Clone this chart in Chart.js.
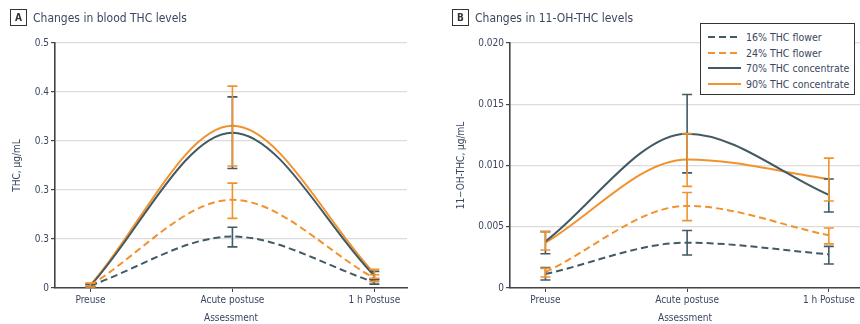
<!DOCTYPE html>
<html>
<head>
<meta charset="utf-8">
<script src="https://cdn.jsdelivr.net/npm/chart.js@4.4.1/dist/chart.umd.min.js"></script>
<style>
  body { margin: 0; background: #fff; }
  #wrap { position: relative; width: 860px; height: 324px; overflow: hidden;
          font-family: "Liberation Sans Narrow", "DejaVu Sans Condensed", "Roboto", sans-serif; color: #3c4660; }
  .panel { position: absolute; top: 0; height: 324px; }
  .head { position: absolute; top: 9px; display: flex; align-items: center; font-size: 12px; }
  .tag { width: 15px; height: 15px; border: 1.5px solid #333; font-weight: bold; font-size: 10px;
         display: flex; align-items: center; justify-content: center; margin-right: 6px; color: #333; }
  #legend { position: absolute; left: 700px; top: 23px; width: 155px; height: 72px; border: 1.5px solid #333;
            background: #fff; font-size: 10.5px; padding-top: 5px; box-sizing: border-box; white-space: nowrap; }
  #legend .row { display: flex; align-items: center; height: 15.7px; padding-left: 7px; }
  #legend svg { margin-right: 5px; flex: none; }
</style>
</head>
<body>
<div id="wrap">
  <div class="panel" style="left:0;width:430px"><canvas id="chartA" width="430" height="324"></canvas></div>
  <div class="panel" style="left:430px;width:430px"><canvas id="chartB" width="430" height="324"></canvas></div>
  <div class="head" style="left:10px"><div class="tag">A</div>Changes in blood THC levels</div>
  <div class="head" style="left:452px"><div class="tag">B</div>Changes in 11-OH-THC levels</div>
  <div id="legend"></div>
</div>
<script>
// categories and series
const categories = ['Preuse', 'Acute postuse', '1 h Postuse'];
const seriesNames = ['16% THC flower', '24% THC flower', '70% THC concentrate', '90% THC concentrate'];
const yTicksA = ['0', '0.3', '0.3', '0.3', '0.4', '0.5'];

// blood THC, µg/mL (mean, lower, upper)
const thcMean = [
  [0.005, 0.105, 0.012],
  [0.006, 0.180, 0.020],
  [0.005, 0.317, 0.025],
  [0.006, 0.331, 0.030]
];
const thcLow = [
  [0.003, 0.084, 0.008],
  [0.003, 0.142, 0.013],
  [0.002, 0.244, 0.017],
  [0.002, 0.249, 0.020]
];
const thcHigh = [
  [0.007, 0.124, 0.018],
  [0.009, 0.214, 0.027],
  [0.008, 0.390, 0.034],
  [0.010, 0.412, 0.038]
];

// 11-OH-THC, µg/mL (mean, lower, upper)
const ohMean = [
  [0.00114, 0.0037, 0.00275],
  [0.0013, 0.0067, 0.0043],
  [0.0038, 0.0126, 0.0076],
  [0.0037, 0.0105, 0.0089]
];
const ohLow = [
  [0.00065, 0.0027, 0.00196],
  [0.0009, 0.0055, 0.0036],
  [0.0028, 0.0094, 0.0062],
  [0.0031, 0.0083, 0.0071]
];
const ohHigh = [
  [0.00166, 0.0047, 0.0034],
  [0.0016, 0.0078, 0.0049],
  [0.0046, 0.0158, 0.0089],
  [0.0046, 0.0126, 0.0106]
];

const DARK = '#425a63';
const ORANGE = '#f2922f';
const lineColors = [DARK, ORANGE, DARK, ORANGE];
const lineDash = [[7, 4], [7, 4], [], []];
const TEXT = '#3c4660';
const FONT = '"Liberation Sans Narrow", "DejaVu Sans Condensed", "Roboto", sans-serif';

// vertical error bars with caps
const errorBars = {
  id: 'errorBars',
  afterDatasetsDraw(chart) {
    const ctx = chart.ctx;
    const xs = chart.scales.x, ys = chart.scales.y;
    chart.data.datasets.forEach(ds => {
      ctx.save();
      ctx.strokeStyle = ds.borderColor;
      ctx.lineWidth = 1.6;
      ds.data.forEach((p, i) => {
        const x = xs.getPixelForValue(p.x);
        const y1 = ys.getPixelForValue(ds.errLow[i]);
        const y2 = ys.getPixelForValue(ds.errHigh[i]);
        ctx.beginPath();
        ctx.moveTo(x, y1); ctx.lineTo(x, y2);
        ctx.moveTo(x - 5, y1); ctx.lineTo(x + 5, y1);
        ctx.moveTo(x - 5, y2); ctx.lineTo(x + 5, y2);
        ctx.stroke();
      });
      ctx.restore();
    });
  }
};

function makeDatasets(mean, low, high) {
  return mean.map((vals, s) => ({
    label: seriesNames[s],
    data: vals.map((v, i) => ({ x: i, y: v })),
    errLow: low[s],
    errHigh: high[s],
    borderColor: lineColors[s],
    borderDash: lineDash[s],
    borderWidth: 2,
    pointRadius: 0,
    cubicInterpolationMode: 'monotone',
    fill: false
  }));
}

function makeChart(id, datasets, opts) {
  return new Chart(document.getElementById(id), {
    type: 'line',
    data: { datasets },
    plugins: [errorBars],
    options: {
      responsive: false,
      animation: false,
      layout: { padding: { top: 43, right: opts.padRight, left: 0, bottom: 0 } },
      plugins: { legend: { display: false }, tooltip: { enabled: false } },
      scales: {
        x: {
          type: 'linear',
          min: -0.25,
          max: opts.xMax,
          afterBuildTicks: s => { s.ticks = categories.map((c, i) => ({ value: i })); },
          afterFit: s => { s.height = 36; },
          ticks: {
            callback: v => categories[v],
            color: TEXT, font: { family: FONT, size: 10 }, padding: 2, maxRotation: 0
          },
          grid: { drawOnChartArea: false, drawTicks: true, tickLength: 4, tickColor: '#444' },
          border: { color: '#444', width: 1.6 },
          title: { display: true, text: 'Assessment', color: TEXT, font: { family: FONT, size: 10 }, padding: { top: 7, bottom: 0 } }
        },
        y: {
          min: 0,
          max: opts.yMax,
          afterFit: s => { s.width = opts.yWidth; },
          afterBuildTicks: s => {
            const out = [];
            for (let k = 0; k <= opts.yCount; k++) out.push({ value: +(k * opts.yStep).toFixed(4) });
            s.ticks = out;
          },
          ticks: {
            callback: opts.yLabel,
            color: TEXT, font: { family: FONT, size: 10 }, padding: 2
          },
          grid: { color: '#dcdcdc', lineWidth: 1.2, tickLength: 4, tickColor: '#444' },
          border: { color: '#444', width: 1.6 },
          title: { display: true, text: opts.yTitle, color: TEXT, font: { family: FONT, size: 10 }, padding: { top: opts.yTitlePad, bottom: 0 } }
        }
      }
    }
  });
}

makeChart('chartA', makeDatasets(thcMean, thcLow, thcHigh), {
  padRight: 23, xMax: 2.23, yMax: 0.5, yStep: 0.1, yCount: 5, yWidth: 55, yTitlePad: 11,
  yLabel: (v, i) => yTicksA[i],
  yTitle: 'THC, µg/mL'
});

makeChart('chartB', makeDatasets(ohMean, ohLow, ohHigh), {
  padRight: 0, xMax: 2.22, yMax: 0.02, yStep: 0.005, yCount: 4, yWidth: 80, yTitlePad: 25,
  yLabel: v => (v === 0 ? '0' : v.toFixed(3)),
  yTitle: '11−OH-THC, µg/mL'
});

// legend rows built from the series arrays
const legend = document.getElementById('legend');
seriesNames.forEach((name, s) => {
  const row = document.createElement('div');
  row.className = 'row';
  const dash = lineDash[s].length ? `stroke-dasharray="${lineDash[s].join(' ')}"` : '';
  row.innerHTML = `<svg width="33" height="4"><line x1="0" y1="2" x2="33" y2="2" stroke="${lineColors[s]}" stroke-width="2" ${dash}/></svg><span>${name}</span>`;
  legend.appendChild(row);
});
</script>
</body>
</html>
